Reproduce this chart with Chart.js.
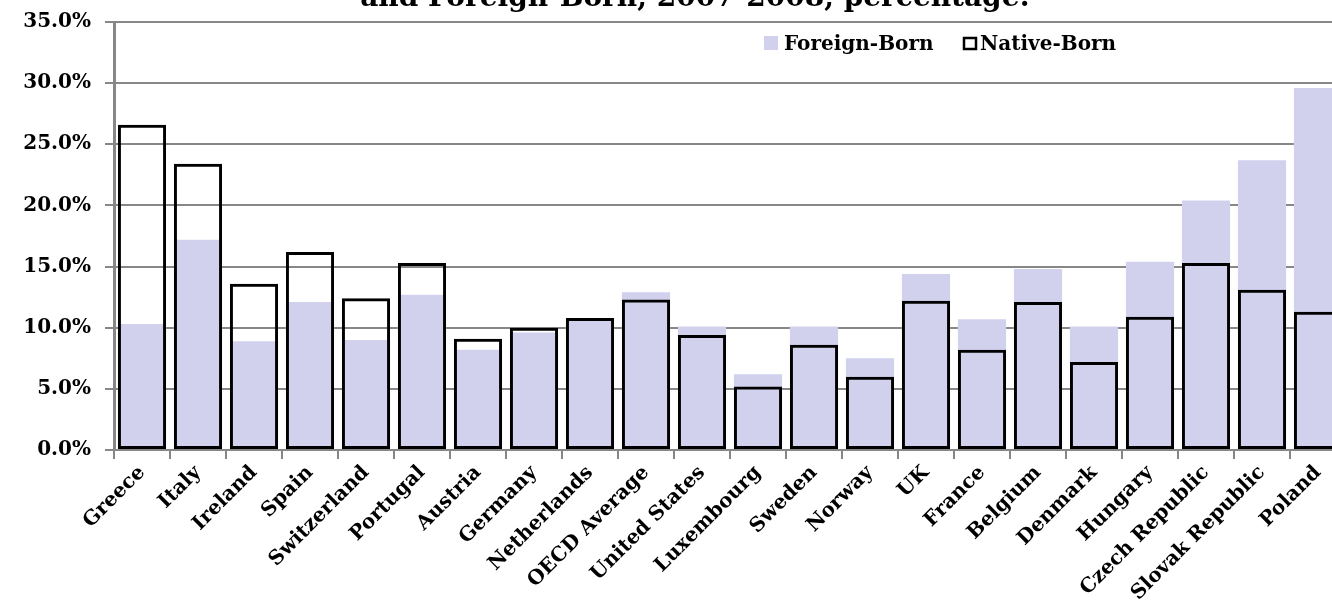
<!DOCTYPE html>
<html>
<head>
<meta charset="utf-8">
<title>Foreign-Born and Native-Born</title>
<script src="https://cdn.jsdelivr.net/npm/chart.js@4.4.0/dist/chart.umd.min.js"></script>
<style>
  html, body { margin: 0; padding: 0; background: #fff; overflow: hidden; }
  #wrap { position: absolute; left: 0; top: -4px; width: 1346px; height: 612px; }
</style>
</head>
<body>
<div id="wrap"><canvas id="chart"></canvas></div>
<script>
// 数据
const countries = ['Greece', 'Italy', 'Ireland', 'Spain', 'Switzerland', 'Portugal', 'Austria',
    'Germany', 'Netherlands', 'OECD Average', 'United States', 'Luxembourg', 'Sweden', 'Norway',
    'UK', 'France', 'Belgium', 'Denmark', 'Hungary', 'Czech Republic', 'Slovak Republic', 'Poland'];
const foreignBorn = [10.3, 17.2, 8.9, 12.1, 9.0, 12.7, 8.2, 9.6, 10.8, 12.9, 10.1,
    6.2, 10.1, 7.5, 14.4, 10.7, 14.8, 10.1, 15.4, 20.4, 23.7, 29.6];
const nativeBorn = [26.6, 23.4, 13.6, 16.2, 12.4, 15.3, 9.1, 10.0, 10.8, 12.3, 9.4,
    5.2, 8.6, 6.0, 12.2, 8.2, 12.1, 7.2, 10.9, 15.3, 13.1, 11.3];
const yMax = 35;
const yStep = 5;
const titleText = 'and Foreign-Born, 2007-2008, percentage:';
const legendItems = ['Foreign-Born', 'Native-Born'];

const FONT = "'DejaVu Serif', serif";
const GRID = '#878787';
const FILL = '#d1d1ee';

// 标题（上半部分被裁掉）和图例
const overlay = {
    id: 'overlay',
    afterDraw(chart) {
        const ctx = chart.ctx;
        ctx.save();
        ctx.fillStyle = '#000';
        ctx.font = 'bold 28px ' + FONT;
        ctx.textAlign = 'center';
        ctx.textBaseline = 'alphabetic';
        ctx.fillText(titleText, 695, 10);

        ctx.font = 'bold 20px ' + FONT;
        ctx.textAlign = 'left';
        ctx.fillStyle = FILL;
        ctx.fillRect(764, 40, 14, 14);
        ctx.fillStyle = '#000';
        ctx.fillText(legendItems[0], 784, 54);
        ctx.strokeStyle = '#000';
        ctx.lineWidth = 2.5;
        ctx.strokeRect(964, 42, 12, 11);
        ctx.fillText(legendItems[1], 980, 54);
        ctx.restore();
    }
};

const chart = new Chart(document.getElementById('chart'), {
    type: 'bar',
    data: {
        labels: countries,
        datasets: [
            {
                label: legendItems[1], data: nativeBorn,
                backgroundColor: 'rgba(0,0,0,0)', borderColor: '#000', borderWidth: 3,
                borderSkipped: false, grouped: false,
                barPercentage: 0.86, categoryPercentage: 1.0
            },
            {
                label: legendItems[0], data: foreignBorn,
                backgroundColor: FILL, borderWidth: 0,
                grouped: false, barPercentage: 0.86, categoryPercentage: 1.0
            }
        ]
    },
    options: {
        responsive: true, maintainAspectRatio: false, animation: false,
        layout: { padding: { top: 17, left: 0, right: 0, bottom: 0 } },
        plugins: { legend: { display: false }, title: { display: false }, tooltip: { enabled: false } },
        scales: {
            x: {
                afterFit: (s) => { s.height = 158; },
                grid: { drawOnChartArea: false, offset: true, color: GRID, lineWidth: 2, tickLength: 9 },
                border: { color: GRID, width: 2 },
                ticks: {
                    autoSkip: false, minRotation: 45, maxRotation: 45, padding: 2, color: '#000',
                    font: { family: FONT, weight: 'bold', size: 20 }
                }
            },
            y: {
                min: 0, max: yMax,
                afterFit: (s) => { s.width = 114; },
                grid: { color: GRID, lineWidth: 2, tickLength: 9 },
                border: { color: GRID, width: 3 },
                ticks: {
                    stepSize: yStep, padding: 14, color: '#000',
                    font: { family: FONT, weight: 'bold', size: 20 },
                    callback: (v) => v.toFixed(1) + '%'
                }
            }
        }
    },
    plugins: [overlay]
});
</script>
</body>
</html>
